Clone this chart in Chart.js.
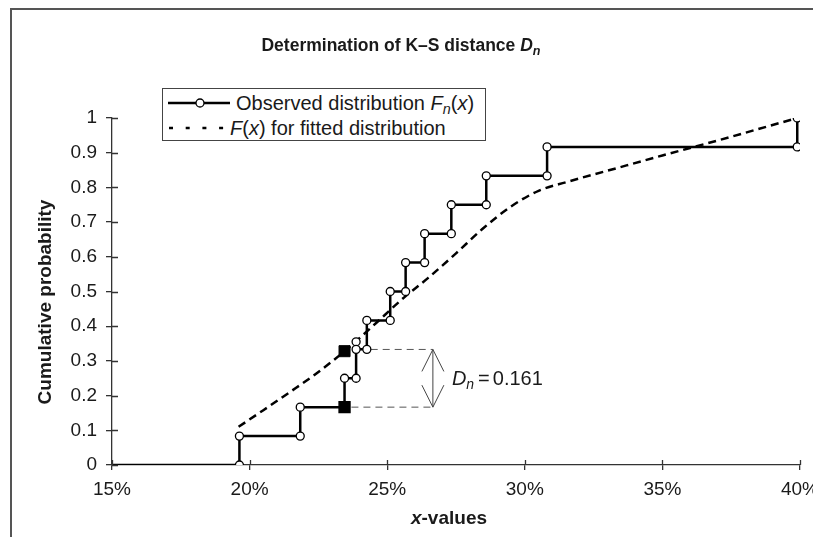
<!DOCTYPE html>
<html>
<head>
<meta charset="utf-8">
<script src="https://cdn.jsdelivr.net/npm/chart.js@4"></script>
<style>
  html, body { margin: 0; padding: 0; background: #fff; overflow: hidden; width: 813px; height: 537px; }
  body { position: relative; font-family: "Liberation Sans", Arial, sans-serif; color: #1a1a1a; }
  #frame { position: absolute; left: 10px; top: 8px; width: 1000px; height: 1000px; border: 2px solid #555; box-sizing: border-box; }
  #chart { position: absolute; left: 0; top: 0; }
  #title { position: absolute; left: 0; width: 802px; top: 35px; text-align: center; font-weight: bold; font-size: 17.5px; }
  #title sub, .lg sub { font-size: 0.72em; vertical-align: -0.3em; line-height: 0; }
  #legend { position: absolute; left: 162px; top: 88px; width: 324px; height: 53px; border: 1.5px solid #444; box-sizing: border-box; background: #fff; font-size: 20px; }
  .lg { position: absolute; left: 5px; height: 24px; display: flex; align-items: center; white-space: nowrap; }
  .lg svg { margin-right: 6px; }
</style>
</head>
<body>
<div id="frame"></div>
<canvas id="chart" width="840" height="537"></canvas>
<div id="title">Determination of K–S distance <i>D<sub>n</sub></i></div>
<div id="legend">
  <div class="lg" style="top:2px"><svg width="62" height="14"><line x1="0" y1="7" x2="62" y2="7" stroke="#000" stroke-width="2.5"/><circle cx="32" cy="7" r="4" fill="#fff" stroke="#000" stroke-width="1.3"/></svg>Observed distribution&nbsp;<i>F<sub>n</sub></i>(<i>x</i>)</div>
  <div class="lg" style="top:27px"><svg width="56" height="14"><line x1="1" y1="7" x2="56" y2="7" stroke="#000" stroke-width="2.5" stroke-dasharray="4 12.7"/></svg><i>F</i>(<i>x</i>)&nbsp;for fitted distribution</div>
</div>
<script>
// ---- data ----
const xTickValues = [15, 20, 25, 30, 35, 40];
const xTickLabels = ["15%", "20%", "25%", "30%", "35%", "40%"];
const yTickValues = [0, 0.1, 0.2, 0.3, 0.4, 0.5, 0.6, 0.7, 0.8, 0.9, 1];
const yTickLabels = ["0", "0.1", "0.2", "0.3", "0.4", "0.5", "0.6", "0.7", "0.8", "0.9", "1"];

// observed step function Fn(x), vertices in drawing order
const obsX = [15, 19.63, 19.63, 21.84, 21.84, 23.45, 23.45, 23.87, 23.87, 23.87, 24.26, 24.26, 25.11, 25.11,
              25.67, 25.67, 26.36, 26.36, 27.33, 27.33, 28.6, 28.6, 30.81, 30.81, 39.9, 39.9];
const obsY = [0, 0, 0.0833, 0.0833, 0.1667, 0.1667, 0.25, 0.25, 0.355, 0.3333, 0.3333, 0.4167, 0.4167, 0.5,
              0.5, 0.5833, 0.5833, 0.6667, 0.6667, 0.75, 0.75, 0.8333, 0.8333, 0.9167, 0.9167, 1.0];

// fitted distribution F(x)
const fitX = [19.6, 20.5, 21.5, 22.5, 23.45, 24.5, 25.5, 26.5, 27.5, 28.5, 29.5, 30.5, 31.5, 33, 35, 37, 39.9];
const fitY = [0.11, 0.158, 0.212, 0.268, 0.328, 0.402, 0.475, 0.54, 0.61, 0.683, 0.745, 0.79, 0.815, 0.848, 0.892, 0.935, 1.0];

// K-S distance marker
const dnAt = 23.45;
const dnLow = 0.1667;
const dnHigh = 0.328;
const dnArrowX = 26.66;
const dnGuideLowStart = 23.7;
const dnGuideHighStart = 24.4;
const dnGuideHigh = 0.333;
const dnValue = "0.161";

const FONT = '"Liberation Sans", Arial, sans-serif';
const INK = "#1a1a1a";
const AXIS = "#333";

const pts = (xs, ys) => xs.map((x, i) => ({ x: x, y: ys[i] }));

const obsRadius = obsX.map((_, i) => i === 0 ? 0 : (i === 5 ? 7.8 : 4));
const obsStyle = obsX.map((_, i) => i === 5 ? "rect" : "circle");
const obsFill = obsX.map((_, i) => i === 5 ? "#000" : "#fff");

// extra drawing: inner tick halves, axis titles, the D_n arrow and label
const extras = {
    id: "extras",
    afterDraw(chart) {
        const ctx = chart.ctx;
        const xs = chart.scales.x, ys = chart.scales.y;
        const area = chart.chartArea;

        ctx.save();
        ctx.strokeStyle = AXIS;
        ctx.lineWidth = 1.3;
        ctx.beginPath();
        xTickValues.forEach(v => {
            const px = Math.round(xs.getPixelForValue(v)) + 0.5;
            ctx.moveTo(px, area.bottom);
            ctx.lineTo(px, area.bottom - 5);
        });
        yTickValues.forEach(v => {
            const py = Math.round(ys.getPixelForValue(v)) + 0.5;
            ctx.moveTo(area.left, py);
            ctx.lineTo(area.left + 6, py);
        });
        ctx.stroke();

        // arrow between the two guides
        const ax = xs.getPixelForValue(dnArrowX);
        const yTop = ys.getPixelForValue(dnGuideHigh);
        const yBot = ys.getPixelForValue(dnLow);
        ctx.strokeStyle = "#444";
        ctx.lineWidth = 1;
        ctx.beginPath();
        ctx.moveTo(ax, yTop);
        ctx.lineTo(ax, yBot);
        ctx.moveTo(ax - 11, yTop + 22);
        ctx.lineTo(ax, yTop);
        ctx.lineTo(ax + 11, yTop + 22);
        ctx.moveTo(ax - 11, yBot - 22);
        ctx.lineTo(ax, yBot);
        ctx.lineTo(ax + 11, yBot - 22);
        ctx.stroke();

        // D_n = 0.161
        const ly = (yTop + yBot) / 2 + 7;
        let lx = ax + 19;
        ctx.fillStyle = INK;
        ctx.textBaseline = "alphabetic";
        ctx.textAlign = "left";
        ctx.font = "italic 20px " + FONT;
        ctx.fillText("D", lx, ly);
        lx += ctx.measureText("D").width;
        ctx.font = "italic 14px " + FONT;
        ctx.fillText("n", lx, ly + 4);
        lx += ctx.measureText("n").width + 4;
        ctx.font = "20px " + FONT;
        ctx.fillText("=", lx, ly);
        lx += ctx.measureText("=").width + 3;
        ctx.fillText(dnValue, lx, ly);

        // axis titles
        ctx.textBaseline = "middle";
        ctx.font = "italic bold 19px " + FONT;
        const xw = ctx.measureText("x").width;
        ctx.font = "bold 19px " + FONT;
        const rest = "-values";
        const rw = ctx.measureText(rest).width;
        const tx = 449 - (xw + rw) / 2;
        ctx.font = "italic bold 19px " + FONT;
        ctx.fillText("x", tx, 519);
        ctx.font = "bold 19px " + FONT;
        ctx.fillText(rest, tx + xw, 519);

        ctx.translate(46, 302);
        ctx.rotate(-Math.PI / 2);
        ctx.textAlign = "center";
        ctx.fillText("Cumulative probability", 0, 0);
        ctx.restore();
    }
};

new Chart(document.getElementById("chart"), {
    type: "line",
    data: {
        datasets: [
            {
                label: "Observed distribution Fn(x)",
                data: pts(obsX, obsY),
                borderColor: "#000",
                borderWidth: 2.5,
                tension: 0,
                pointRadius: obsRadius,
                pointStyle: obsStyle,
                pointBackgroundColor: obsFill,
                pointBorderColor: "#000",
                pointBorderWidth: 1.3
            },
            {
                label: "F(x) at max distance",
                data: [{ x: dnAt, y: dnHigh }],
                showLine: false,
                pointStyle: "rect",
                pointRadius: 7.8,
                pointBackgroundColor: "#000",
                pointBorderColor: "#000"
            },
            {
                label: "F(x) for fitted distribution",
                data: pts(fitX, fitY),
                borderColor: "#000",
                borderWidth: 2.5,
                borderDash: [8, 5],
                cubicInterpolationMode: "monotone",
                pointRadius: 0
            },
            {
                label: "guide high",
                data: [{ x: dnGuideHighStart, y: dnGuideHigh }, { x: dnArrowX, y: dnGuideHigh }],
                borderColor: "#555",
                borderWidth: 1,
                borderDash: [7, 5],
                pointRadius: 0
            },
            {
                label: "guide low",
                data: [{ x: dnGuideLowStart, y: dnLow }, { x: dnArrowX, y: dnLow }],
                borderColor: "#555",
                borderWidth: 1,
                borderDash: [7, 5],
                pointRadius: 0
            }
        ]
    },
    options: {
        responsive: false,
        animation: false,
        layout: { padding: { top: 118, right: 40, left: 0, bottom: 0 } },
        plugins: { legend: { display: false }, tooltip: { enabled: false }, title: { display: false } },
        scales: {
            x: {
                type: "linear",
                min: 15,
                max: 40,
                afterBuildTicks: s => { s.ticks = xTickValues.map(v => ({ value: v })); },
                afterFit: s => { s.height = 72; },
                ticks: {
                    autoSkip: false,
                    maxRotation: 0,
                    padding: 8,
                    color: INK,
                    font: { family: FONT, size: 19 },
                    callback: v => xTickLabels[xTickValues.indexOf(v)]
                },
                grid: { drawOnChartArea: false, tickLength: 5, color: AXIS, lineWidth: 1.3 },
                border: { color: AXIS, width: 1.3 }
            },
            y: {
                type: "linear",
                min: 0,
                max: 1,
                afterBuildTicks: s => { s.ticks = yTickValues.map(v => ({ value: v })); },
                afterFit: s => { s.width = 112; },
                ticks: {
                    autoSkip: false,
                    padding: 9,
                    color: INK,
                    font: { family: FONT, size: 19 },
                    callback: v => yTickLabels[yTickValues.indexOf(v)]
                },
                grid: { drawOnChartArea: false, tickLength: 6, color: AXIS, lineWidth: 1.3 },
                border: { color: AXIS, width: 1.3 }
            }
        }
    },
    plugins: [extras]
});
</script>
</body>
</html>
